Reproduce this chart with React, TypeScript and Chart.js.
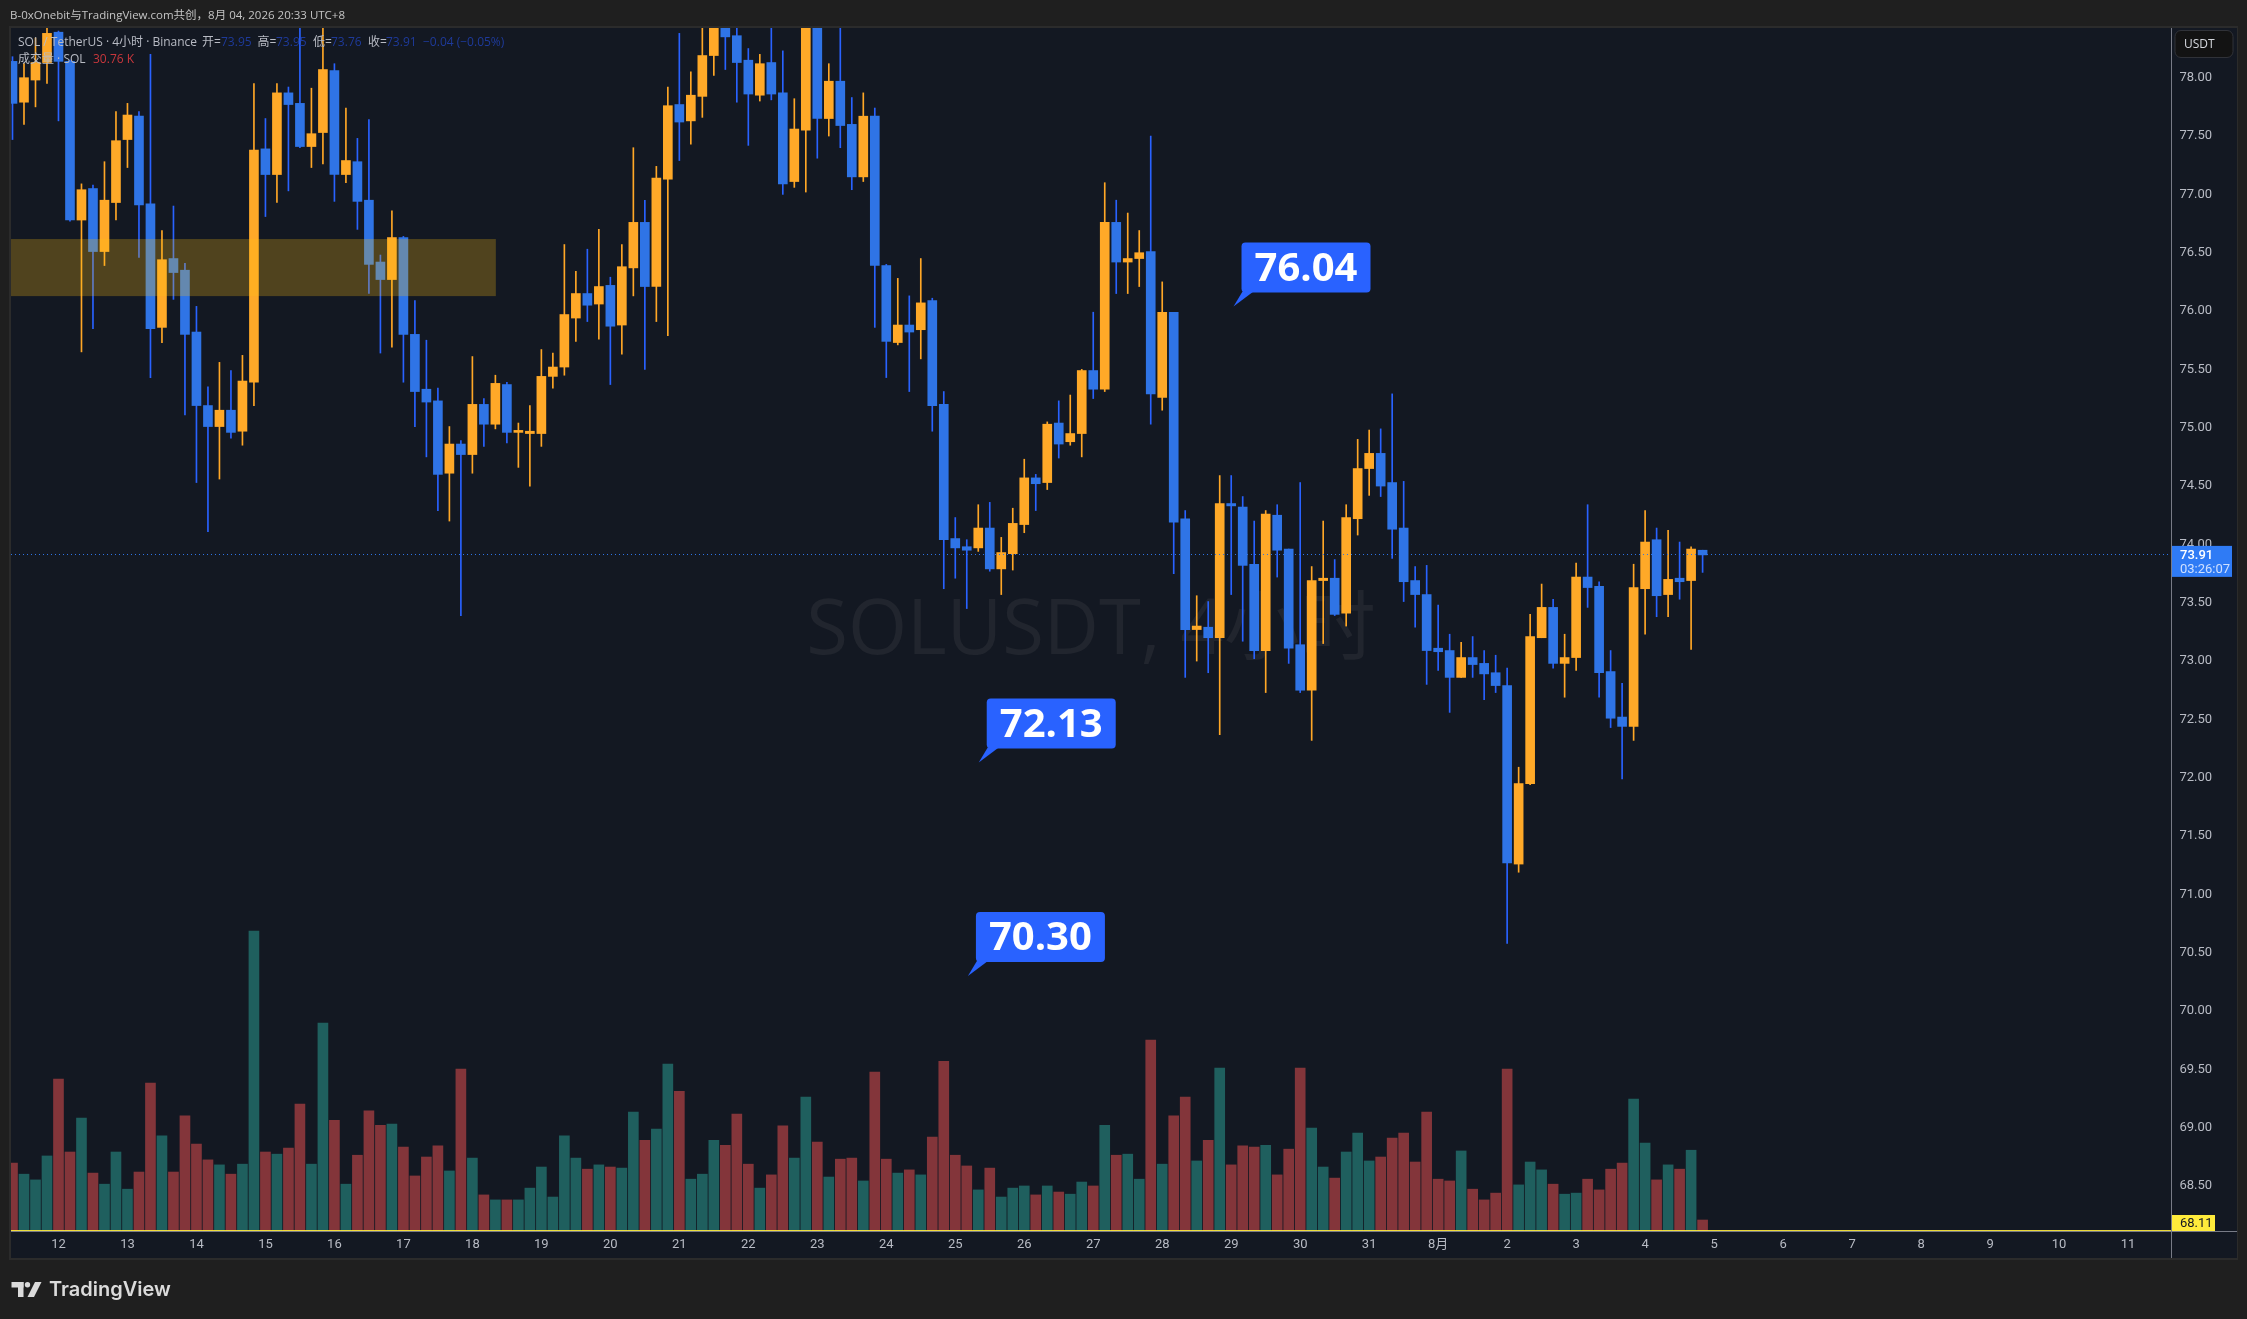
import React, { useEffect, useRef } from "react";
import { Chart, registerables } from "chart.js";

Chart.register(...registerables);

const opens = [
  78.14,77.79,77.98,78.13,78.39,78.14,76.78,77.05,76.51,76.93,
  77.47,77.67,76.92,75.86,76.45,76.35,75.82,75.19,75.01,75.15,
  74.97,75.39,77.39,77.17,77.87,77.78,77.41,77.53,78.06,77.17,
  77.28,76.95,76.42,76.27,76.63,75.80,75.33,75.23,74.61,74.86,
  74.77,75.20,75.03,75.37,74.96,74.95,74.95,75.44,75.52,75.94,
  76.15,76.06,76.22,75.88,76.37,76.76,76.21,77.13,77.77,77.63,
  77.84,78.19,78.48,78.36,78.15,77.85,78.13,77.87,77.11,77.55,
  78.49,77.65,77.97,77.60,77.15,77.67,76.39,75.73,75.88,75.84,
  76.09,75.20,74.05,73.98,73.97,74.14,73.79,73.92,74.17,74.57,
  74.53,75.04,74.88,74.95,75.49,75.33,76.76,76.42,76.45,76.51,
  75.26,75.99,74.22,73.27,73.29,73.20,74.35,74.32,73.83,73.09,
  74.25,73.96,73.14,72.75,73.69,73.71,73.41,74.22,74.65,74.78,
  74.53,74.14,73.69,73.57,73.11,73.09,72.86,73.03,72.98,72.90,
  72.79,71.26,71.95,73.20,73.46,72.98,73.03,73.72,73.64,72.91,
  72.52,72.44,73.62,74.04,73.57,73.71,73.69,73.95,
];
const closes = [
  77.78,78.00,78.13,78.38,78.14,76.78,77.04,76.51,76.95,77.46,
  77.68,76.91,75.85,76.44,76.33,75.80,75.19,75.01,75.15,74.96,
  75.40,77.38,77.17,77.87,77.77,77.41,77.52,78.07,77.17,77.29,
  76.94,76.40,76.27,76.63,75.80,75.31,75.22,74.60,74.86,74.77,
  75.20,75.03,75.38,74.96,74.97,74.97,75.44,75.52,75.97,76.15,
  76.05,76.21,75.87,76.38,76.76,76.21,77.14,77.76,77.62,77.85,
  78.19,78.48,78.35,78.13,77.86,78.12,77.86,77.09,77.56,78.49,
  77.65,77.97,77.59,77.15,77.67,76.39,75.74,75.88,75.82,76.07,
  75.19,74.04,73.97,73.95,74.14,73.79,73.93,74.18,74.57,74.52,
  75.03,74.86,74.95,75.49,75.33,76.76,76.42,76.45,76.50,75.29,
  75.99,74.19,73.27,73.30,73.20,74.35,74.33,73.82,73.09,74.26,
  73.95,73.11,72.75,73.69,73.71,73.40,74.23,74.65,74.78,74.50,
  74.13,73.68,73.57,73.09,73.08,72.86,73.03,72.97,72.89,72.79,
  71.27,71.95,73.21,73.46,72.98,73.03,73.72,73.63,72.90,72.51,
  72.44,73.63,74.02,73.56,73.70,73.68,73.96,73.91,
];
const highs = [
  78.18,78.12,78.34,78.49,78.40,78.15,77.09,77.08,77.28,77.71,
  77.78,77.71,78.20,76.69,76.90,76.41,76.04,75.35,75.56,75.49,
  75.62,77.95,77.65,77.95,77.92,78.49,77.91,78.52,78.12,77.74,
  77.48,77.64,76.48,76.86,76.64,76.09,75.75,75.34,75.01,74.89,
  75.61,75.25,75.45,75.39,75.04,75.19,75.67,75.64,76.57,76.34,
  76.53,76.70,76.29,76.57,77.40,76.95,77.24,77.92,78.38,78.05,
  78.52,78.58,78.55,78.49,78.25,78.20,78.49,78.23,77.82,78.55,
  78.55,78.12,78.49,77.83,77.87,77.74,76.40,76.28,76.13,76.45,
  76.11,75.31,74.23,74.04,74.34,74.36,74.06,74.31,74.73,74.60,
  75.05,75.23,75.28,75.50,75.99,77.10,76.95,76.84,76.69,77.50,
  76.25,75.99,74.29,73.56,73.51,74.59,74.59,74.41,74.20,74.29,
  74.34,73.96,74.53,73.81,74.20,73.87,74.34,74.90,74.98,74.99,
  75.29,74.54,73.81,73.82,73.48,73.23,73.16,73.21,73.09,73.05,
  72.94,72.09,73.40,73.66,73.53,73.23,73.84,74.34,73.68,73.09,
  72.81,73.83,74.29,74.14,74.12,74.02,73.98,73.95,
];
const lows = [
  77.47,77.60,77.75,77.95,77.63,76.77,75.65,75.85,76.39,76.78,
  77.23,76.46,75.43,75.73,76.10,75.11,74.53,74.11,74.56,74.91,
  74.85,75.19,76.81,76.93,77.03,77.40,77.23,77.26,76.94,77.10,
  76.70,76.15,75.64,75.69,75.39,75.01,74.75,74.29,74.20,73.39,
  74.61,74.84,74.99,74.87,74.66,74.50,74.84,75.34,75.45,75.74,
  75.91,75.76,75.37,75.63,76.13,75.50,75.91,75.79,77.29,77.43,
  77.66,78.02,78.07,77.79,77.42,77.80,77.81,77.00,77.06,77.02,
  77.31,77.50,77.40,77.04,77.11,75.86,75.43,75.71,75.31,75.59,
  74.97,73.62,73.71,73.45,73.94,73.77,73.57,73.78,74.10,74.29,
  74.47,74.74,74.85,74.75,75.25,75.31,76.15,76.15,76.21,75.03,
  75.15,73.75,72.86,73.00,72.90,72.37,73.57,73.17,73.02,72.73,
  73.72,72.98,72.73,72.32,73.15,73.39,73.30,74.08,74.42,74.41,
  73.88,73.51,73.29,72.80,72.92,72.56,72.86,72.86,72.67,72.73,
  70.58,71.19,71.94,73.20,72.94,72.69,72.92,73.46,72.69,72.43,
  71.99,72.32,73.23,73.38,73.38,73.53,73.10,73.76,
];
const volumes = [
  190,159,143,210,425,221,316,162,131,221,
  117,165,414,266,165,322,243,199,185,159,
  187,839,221,215,232,355,187,582,310,131,
  212,336,296,299,235,154,207,238,168,453,
  204,101,87,87,87,120,179,95,266,204,
  173,185,179,176,333,254,285,467,391,145,
  159,254,240,327,187,120,157,294,204,375,
  249,151,201,204,140,445,201,162,171,157,
  263,475,212,182,115,176,95,120,126,101,
  126,109,103,137,126,296,212,215,145,534,
  187,322,375,196,254,456,185,238,235,240,
  157,229,456,288,179,148,221,274,196,207,
  260,274,193,333,145,140,224,117,87,106,
  453,129,193,171,131,103,106,145,115,173,
  190,369,246,143,185,173,226,30.76,
];
const dayLabels = [
  "12","13","14","15","16","17","18","19","20","21","22","23","24","25","26","27","28","29","30","31",
  "8月","2","3","4","5","6","7","8","9","10","11",
];
const dayBarIndex = [
  4,10,16,22,28,34,40,46,52,58,64,70,76,82,88,94,100,106,112,118,
  124,130,136,142,148,154,160,166,172,178,184,
];
const priceTicks = [68.5,69,69.5,70,70.5,71,71.5,72,72.5,73,73.5,74,74.5,75,75.5,76,76.5,77,77.5,78];
const calloutValues = [76.04, 72.13, 70.3];
const calloutBars = [106.2, 84.04, 83.1];
const zoneBars = [-1, 42.04];
const zonePrices = [76.617, 76.128];
const lastPrice = 73.91;
const bottomPrice = 68.11;

const UP = "#FFA928";
const DOWN = "#2F74E6";
const UP_WICK = "#FFA726";
const DOWN_WICK = "#2962FF";
const VOL_UP = "#1F5F5E";
const VOL_DOWN = "#83353A";
const PAGE = "#1F1F1F";
const PANE = "#131822";
const FRAME = "#2B2B2B";
const AXIS_LINE = "#787B86";
const TEXT = "#B8BBC4";
const UI_FONT = '"Open Sans","Noto Sans CJK SC",sans-serif';

const indices = opens.map((_, i) => i);
const isUp = (i: number) => closes[i] >= opens[i];

const chromePlugin = {
  id: "chrome",
  beforeDraw(chart: any) {
    const c = chart.ctx as CanvasRenderingContext2D;
    c.save();
    c.fillStyle = PAGE;
    c.fillRect(0, 0, 2247, 1319);
    c.fillStyle = FRAME;
    c.fillRect(9, 26, 2229, 1234);
    c.fillStyle = PANE;
    c.fillRect(11, 28, 2226, 1230);
    // title
    c.fillStyle = "#C4C4C4";
    c.font = `11.5px ${UI_FONT}`;
    c.textBaseline = "middle";
    c.textAlign = "left";
    c.fillText("B-0xOnebit与TradingView.com共创，8月 04, 2026 20:33 UTC+8", 10, 15.5);
    // logo
    c.fillStyle = "#DBDBDB";
    c.fillRect(11.5, 1282, 12, 5.5);
    c.fillRect(18, 1282, 5.5, 15);
    c.beginPath();
    c.arc(27.5, 1284.7, 2.7, 0, Math.PI * 2);
    c.fill();
    c.beginPath();
    c.moveTo(35, 1282);
    c.lineTo(41.5, 1282);
    c.lineTo(34, 1297);
    c.lineTo(27.5, 1297);
    c.closePath();
    c.fill();
    c.font = `600 20px Inter,${UI_FONT}`;
    c.fillText("TradingView", 49, 1289.5);
    c.restore();
  },
  beforeDatasetsDraw(chart: any) {
    const c = chart.ctx as CanvasRenderingContext2D;
    c.save();
    c.fillStyle = "#21252E";
    c.font = `76px ${UI_FONT}`;
    c.textAlign = "center";
    c.textBaseline = "middle";
    c.fillText("SOLUSDT, 4小时", 1091, 632);
    c.restore();
  },
  afterDatasetsDraw(chart: any) {
    const c = chart.ctx as CanvasRenderingContext2D;
    const { x, y } = chart.scales;
    const a = chart.chartArea;
    c.save();
    c.beginPath();
    c.rect(a.left, a.top, a.right - a.left, a.bottom - a.top);
    c.clip();
    // highlighted zone
    const zx0 = x.getPixelForValue(zoneBars[0]);
    const zx1 = x.getPixelForValue(zoneBars[1]);
    const zy0 = y.getPixelForValue(zonePrices[0]);
    const zy1 = y.getPixelForValue(zonePrices[1]);
    c.fillStyle = "rgba(255,195,20,0.26)";
    c.fillRect(zx0, zy0, zx1 - zx0, zy1 - zy0);
    // last price line
    const ly = Math.round(y.getPixelForValue(lastPrice)) - 0.5;
    c.strokeStyle = "#2F74E6";
    c.lineWidth = 1;
    c.setLineDash([1, 3]);
    c.beginPath();
    c.moveTo(a.left, ly);
    c.lineTo(a.right, ly);
    c.stroke();
    c.setLineDash([]);
    // bottom yellow line
    const by = y.getPixelForValue(bottomPrice);
    c.fillStyle = "#FFEB3B";
    c.fillRect(a.left, by - 1.5, a.right - a.left, 2);
    // callouts
    calloutValues.forEach((v, i) => {
      const tx = x.getPixelForValue(calloutBars[i]);
      const ty = y.getPixelForValue(v);
      const left = tx + 8;
      const bottom = ty - 14;
      const w = 129;
      const h = 50;
      c.fillStyle = "#2962FF";
      c.beginPath();
      c.moveTo(tx, ty);
      c.lineTo(tx + 9, bottom - 1);
      c.lineTo(tx + 20, bottom - 1);
      c.closePath();
      c.fill();
      c.beginPath();
      c.roundRect(left, bottom - h, w, h, 4);
      c.fill();
      c.fillStyle = "#FFFFFF";
      c.font = `700 40px ${UI_FONT}`;
      c.textAlign = "center";
      c.textBaseline = "middle";
      c.fillText(v.toFixed(2), left + w / 2, bottom - h / 2 + 2);
    });
    c.restore();
  },
  afterDraw(chart: any) {
    const c = chart.ctx as CanvasRenderingContext2D;
    const { y } = chart.scales;
    const a = chart.chartArea;
    c.save();
    // axis separators
    c.fillStyle = AXIS_LINE;
    c.fillRect(a.right, 28, 1, 1230);
    c.fillRect(11, a.bottom, 2226, 1);
    // usdt button
    c.fillStyle = "#131313";
    c.strokeStyle = "#303238";
    c.lineWidth = 1;
    c.beginPath();
    c.roundRect(2175, 30.5, 58, 27, 6);
    c.fill();
    c.stroke();
    c.textBaseline = "middle";
    c.textAlign = "left";
    c.fillStyle = "#D6D8DE";
    c.font = `12px ${UI_FONT}`;
    c.fillText("USDT", 2184, 45);
    // price tag
    const ly = y.getPixelForValue(lastPrice);
    c.fillStyle = "#2F7BF5";
    c.fillRect(a.right + 1, ly - 9, 60, 31);
    c.fillStyle = "#FFFFFF";
    c.font = `500 13px Roboto,${UI_FONT}`;
    c.fillText(lastPrice.toFixed(2), 2180, ly + 0.5);
    c.fillStyle = "#CFE0FF";
    c.font = `13px Roboto,${UI_FONT}`;
    c.fillText("03:26:07", 2180, ly + 14.5);
    // bottom tag
    c.fillStyle = "#FFEB3B";
    c.fillRect(a.right + 1, 1215, 43, 16);
    c.fillStyle = "#131722";
    c.font = `13px Roboto,${UI_FONT}`;
    c.fillText(bottomPrice.toFixed(2), 2180, 1223.5);
    // legend
    const row = 43;
    c.font = `12px ${UI_FONT}`;
    c.fillStyle = TEXT;
    c.fillText("SOL / TetherUS · 4小时 · Binance", 18, row);
    const valueColor = "#1E3A9A";
    const parts: [string, number, string][] = [
      ["开=", 202, TEXT],
      ["73.95", 221, valueColor],
      ["高=", 257.5, TEXT],
      ["73.95", 276, valueColor],
      ["低=", 313, TEXT],
      ["73.76", 331, valueColor],
      ["收=", 368, TEXT],
      ["73.91", 386, valueColor],
      ["−0.04 (−0.05%)", 423, valueColor],
    ];
    parts.forEach(([t, px, col]) => {
      c.fillStyle = col;
      c.fillText(t, px, row);
    });
    c.fillStyle = TEXT;
    c.fillText("成交量 · SOL", 18, 60);
    c.fillStyle = "#C8373C";
    c.fillText("30.76 K", 93, 60);
    c.restore();
  },
};

export default function App() {
  const ref = useRef<HTMLCanvasElement | null>(null);
  useEffect(() => {
    if (!ref.current) return;
    document.body.style.background = PAGE;
    const chart = new Chart(ref.current, {
      type: "bar",
      data: {
        datasets: [
          {
            label: "body",
            data: indices.map((i) => ({ x: i, y: [opens[i], closes[i]] })),
            backgroundColor: indices.map((i) => (isUp(i) ? UP : DOWN)),
            barThickness: 9,
            minBarLength: 2,
            grouped: false,
            xAxisID: "x",
            yAxisID: "y",
            order: 1,
          },
          {
            label: "wick",
            data: indices.map((i) => ({ x: i, y: [lows[i], highs[i]] })),
            backgroundColor: indices.map((i) => (isUp(i) ? UP_WICK : DOWN_WICK)),
            barThickness: 1,
            grouped: false,
            xAxisID: "x",
            yAxisID: "y",
            order: 2,
          },
          {
            label: "volume",
            data: indices.map((i) => ({ x: i, y: volumes[i] })),
            backgroundColor: indices.map((i) => (isUp(i) ? VOL_UP : VOL_DOWN)),
            barThickness: 10,
            grouped: false,
            xAxisID: "x",
            yAxisID: "yV",
            order: 3,
          },
        ],
      } as any,
      options: {
        responsive: false,
        animation: false,
        devicePixelRatio: 1,
        layout: { padding: { left: 11, top: 28, right: 10, bottom: 61 } },
        plugins: { legend: { display: false }, tooltip: { enabled: false } },
        events: [],
        scales: {
          x: {
            type: "linear",
            offset: false,
            min: -0.13,
            max: 187.74,
            grid: { display: false, drawTicks: false },
            border: { display: false },
            afterBuildTicks: (s: any) => {
              s.ticks = dayBarIndex.map((v) => ({ value: v }));
            },
            afterFit: (s: any) => {
              s.height = 27;
            },
            ticks: {
              autoSkip: false,
              maxRotation: 0,
              padding: 6,
              color: TEXT,
              font: { family: 'Roboto,"Noto Sans CJK SC"', size: 13 },
              callback: (v: any) => dayLabels[dayBarIndex.indexOf(Number(v))] ?? "",
            },
          },
          y: {
            type: "linear",
            position: "right",
            min: 68.115,
            max: 78.426,
            grid: { display: false, drawTicks: false },
            border: { display: false },
            afterBuildTicks: (s: any) => {
              s.ticks = priceTicks.map((v) => ({ value: v }));
            },
            afterFit: (s: any) => {
              s.width = 66;
            },
            ticks: {
              autoSkip: false,
              padding: 8.5,
              color: TEXT,
              font: { family: "Roboto", size: 13 },
              callback: (v: any) => Number(v).toFixed(2),
            },
          },
          yV: {
            type: "linear",
            display: false,
            min: 0,
            max: 3366,
          },
        },
      } as any,
      plugins: [chromePlugin],
    } as any);
    return () => chart.destroy();
  }, []);
  return (
    <div style={{ position: "fixed", left: 0, top: 0, width: 2247, height: 1319 }}>
      <canvas ref={ref} width={2247} height={1319} style={{ display: "block" }} />
    </div>
  );
}
